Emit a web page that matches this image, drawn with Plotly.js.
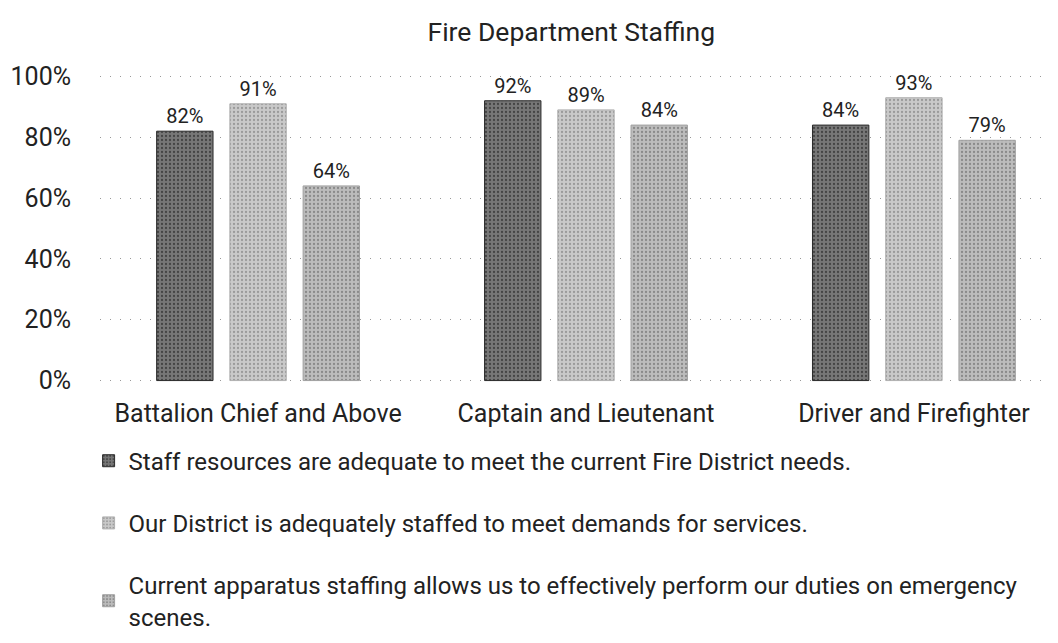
<!DOCTYPE html>
<html><head><meta charset="utf-8">
<script src="https://cdn.plot.ly/plotly-3.0.1.min.js"></script>
<style>html,body{margin:0;padding:0;background:#fff;overflow:hidden}#chart{width:1058px;height:643px}</style>
</head><body><div id="chart"></div>
<script>
const categories = ["Battalion Chief and Above", "Captain and Lieutenant", "Driver and Firefighter"];
const seriesNames = [
  "Staff resources are adequate to meet the current Fire District needs.",
  "Our District is adequately staffed to meet demands for services.",
  "Current apparatus staffing allows us to effectively perform our duties on emergency<br>scenes."
];
const resourcesAdequate = [0.82, 0.92, 0.84];
const districtStaffed = [0.91, 0.89, 0.93];
const apparatusStaffing = [0.64, 0.84, 0.79];
const seriesValues = [resourcesAdequate, districtStaffed, apparatusStaffing];
const fills = ["#777777", "#c9c9c9", "#bcbcbc"];
const lines = ["#2a2a2a", "#b0b0b0", "#a0a0a0"];
const patFg = ["#444444", "#9a9a9a", "#8a8a8a"];

const traces = seriesValues.map((vals, i) => ({
  type: "bar",
  name: seriesNames[i],
  x: categories,
  y: vals,
  text: vals.map(v => Math.round(v * 100) + "%"),
  textposition: "outside",
  cliponaxis: false,
  textfont: {family: "Roboto, sans-serif", size: 20, color: "#222"},
  marker: {color: fills[i], line: {color: lines[i], width: 1},
           pattern: {shape: ".", fgcolor: patFg[i], bgcolor: fills[i], size: 4, solidity: 0.25}},
  legendgroup: "g" + i,
  hoverinfo: "skip"
}));

const layout = {
  width: 1058, height: 643,
  margin: {l: 100, r: 8, t: 73.5, b: 259.5, autoexpand: false},
  paper_bgcolor: "#fff", plot_bgcolor: "#fff",
  font: {family: "Roboto, sans-serif", color: "#222"},
  title: {text: "Fire Department Staffing", font: {size: 26.5, color: "#222"}, x: 0.54, xanchor: "center", y: 0.95, yanchor: "middle"},
  barmode: "group",
  bargap: 0.33,
  bargroupgap: 0.23,
  xaxis: {type: "category", range: [-0.482, 2.415], showgrid: false, zeroline: false, showline: false,
          ticks: "", tickfont: {size: 25, color: "#222"}, ticklabelstandoff: 13, automargin: false},
  yaxis: {range: [-0.008, 1.008], tickvals: [0, 0.2, 0.4, 0.6, 0.8, 1], tickformat: ".0%",
          showgrid: true, gridcolor: "#999999", griddash: "1px,9px", gridwidth: 1, zeroline: false,
          tickfont: {size: 25, color: "#222"}, ticklabelstandoff: 28, automargin: false},
  showlegend: true,
  legend: {orientation: "v", x: -0.012, xanchor: "left", y: -0.18, yanchor: "top",
           font: {size: 24, color: "#222"}, tracegroupgap: 28, itemwidth: 30, traceorder: "grouped"}
};
Plotly.newPlot("chart", traces, layout, {displayModeBar: false, staticPlot: true});
</script></body></html>
